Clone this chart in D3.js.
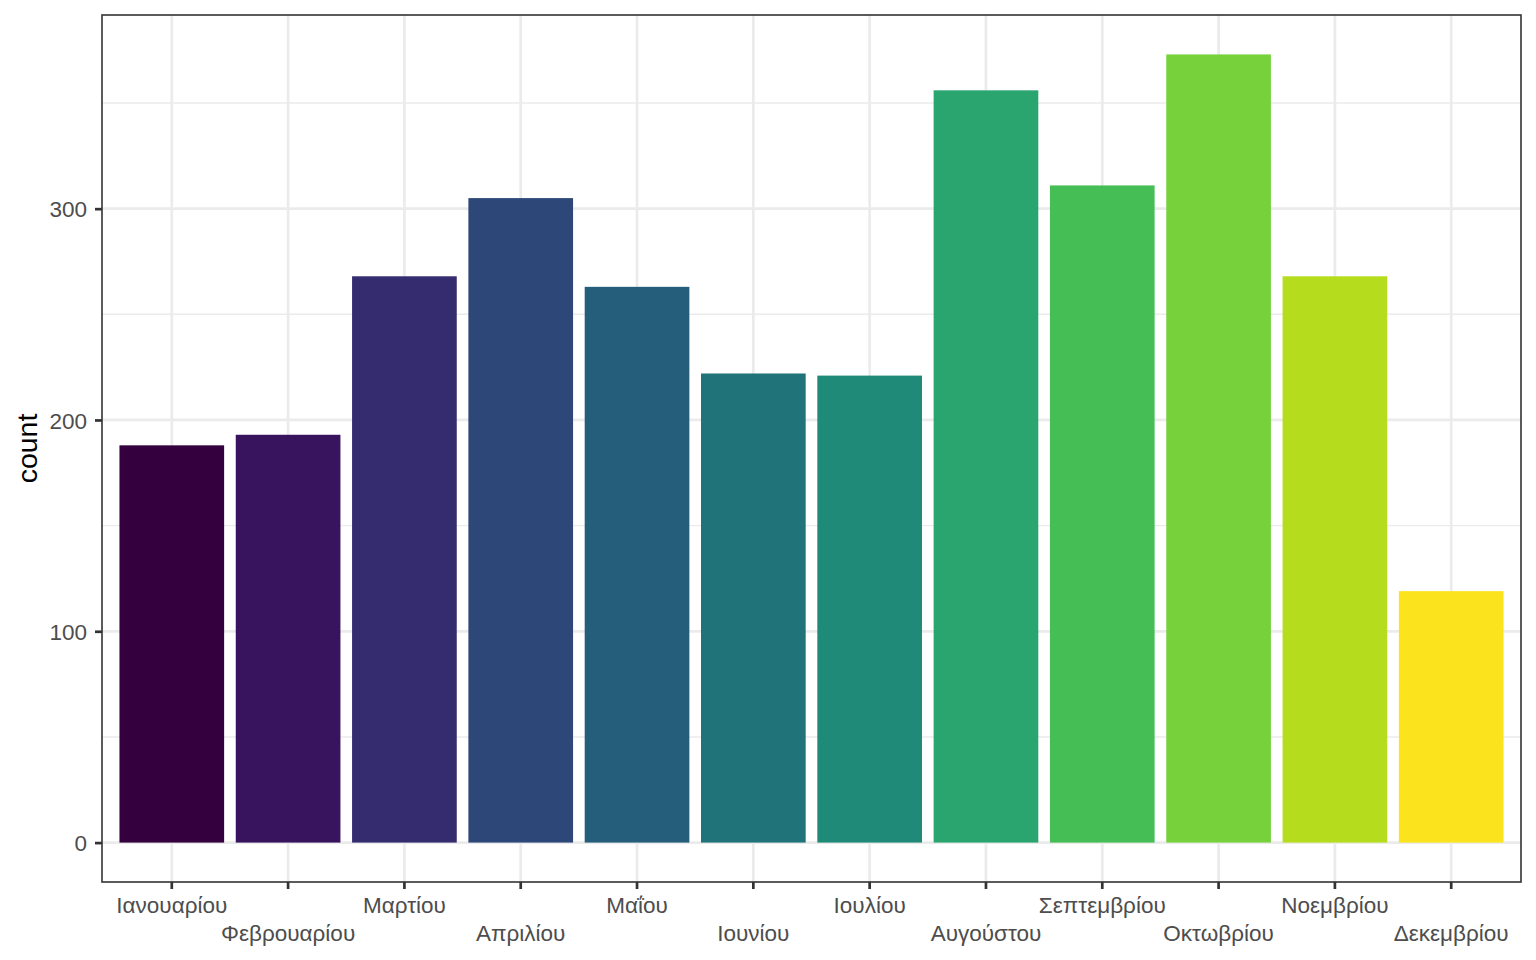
<html>
	<head>
		<meta charset="utf-8">
		<script type="text/javascript" src="https://cdn.jsdelivr.net/npm/d3@7/dist/d3.min.js"></script>
		<style>
			body { margin: 0; background: #fff; }
			svg text { font-family: "Liberation Sans", Arial, sans-serif; }
		</style>
	</head>
	<body>
		<script type="text/javascript">

			//data
			var months = ['Ιανουαρίου','Φεβρουαρίου','Μαρτίου','Απριλίου','Μαΐου','Ιουνίου',
				'Ιουλίου','Αυγούστου','Σεπτεμβρίου','Οκτωβρίου','Νοεμβρίου','Δεκεμβρίου'];
			var counts = [188, 193, 268, 305, 263, 222, 221, 356, 311, 373, 268, 119];
			var fills = ['#34003e','#38135e','#342c6f','#2c4778','#245e7b','#21737a',
				'#1f8a77','#2aa56f','#45be55','#77d13b','#b5dd1e','#fbe31e'];
			var yTicks = [0, 100, 200, 300];
			var yMinor = [50, 150, 250, 350];

			var width = 1536,
				height = 960,
				margin = {top: 15, right: 15, bottom: 78, left: 102};

			var svg = d3.select('body').append('svg')
				.attr('width', width)
				.attr('height', height);

			var x = d3.scaleBand()
				.domain(months)
				.range([margin.left, width - margin.right])
				.paddingInner(0.1)
				.paddingOuter(0.15);

			// ggplot style 5% expansion
			var maxV = d3.max(counts),
				pad = maxV * 0.05;
			var y = d3.scaleLinear()
				.domain([-pad, maxV + pad])
				.range([height - margin.bottom, margin.top]);

			var pLeft = margin.left, pRight = width - margin.right,
				pTop = margin.top, pBottom = height - margin.bottom;

			svg.append('rect')
				.attr('x', pLeft).attr('y', pTop)
				.attr('width', pRight - pLeft).attr('height', pBottom - pTop)
				.attr('fill', '#fff');

			//grid
			svg.selectAll('.minor').data(yMinor).enter().append('line')
				.attr('x1', pLeft).attr('x2', pRight)
				.attr('y1', function(d){ return y(d); })
				.attr('y2', function(d){ return y(d); })
				.attr('stroke', '#ebebeb').attr('stroke-width', 1.4);

			svg.selectAll('.hmajor').data(yTicks).enter().append('line')
				.attr('x1', pLeft).attr('x2', pRight)
				.attr('y1', function(d){ return y(d); })
				.attr('y2', function(d){ return y(d); })
				.attr('stroke', '#ebebeb').attr('stroke-width', 2.7);

			svg.selectAll('.vmajor').data(months).enter().append('line')
				.attr('x1', function(d){ return x(d) + x.bandwidth()/2; })
				.attr('x2', function(d){ return x(d) + x.bandwidth()/2; })
				.attr('y1', pTop).attr('y2', pBottom)
				.attr('stroke', '#ebebeb').attr('stroke-width', 2.7);

			//bars
			svg.selectAll('.bar').data(counts).enter().append('rect')
				.attr('x', function(d,i){ return x(months[i]); })
				.attr('width', x.bandwidth())
				.attr('y', function(d){ return y(d); })
				.attr('height', function(d){ return y(0) - y(d); })
				.attr('fill', function(d,i){ return fills[i]; });

			svg.append('rect')
				.attr('x', pLeft).attr('y', pTop)
				.attr('width', pRight - pLeft).attr('height', pBottom - pTop)
				.attr('fill', 'none')
				.attr('stroke', '#333333').attr('stroke-width', 1.6);

			//axes
			var xAxis = svg.append('g')
				.attr('transform', 'translate(0,' + pBottom + ')')
				.call(d3.axisBottom(x).tickSize(7).tickSizeOuter(0));
			xAxis.select('.domain').remove();
			xAxis.selectAll('.tick line').attr('stroke', '#333333').attr('stroke-width', 2.7);
			xAxis.selectAll('.tick text')
				.attr('fill', '#4d4d4d')
				.style('font-size', '22.5px')
				.attr('dy', null)
				.attr('y', function(d,i){ return i % 2 ? 59 : 31; });

			var yAxis = svg.append('g')
				.attr('transform', 'translate(' + pLeft + ',0)')
				.call(d3.axisLeft(y).tickValues(yTicks).tickSize(7).tickPadding(8).tickSizeOuter(0));
			yAxis.select('.domain').remove();
			yAxis.selectAll('.tick line').attr('stroke', '#333333').attr('stroke-width', 2.7);
			yAxis.selectAll('.tick text')
				.attr('fill', '#4d4d4d')
				.style('font-size', '22.5px')
				.attr('dy', '0.36em');

			svg.append('text')
				.attr('transform', 'translate(37,' + ((pTop + pBottom) / 2) + ') rotate(-90)')
				.attr('text-anchor', 'middle')
				.style('font-size', '28.5px')
				.attr('fill', '#000')
				.text('count');

		</script>
	</body>
</html>
